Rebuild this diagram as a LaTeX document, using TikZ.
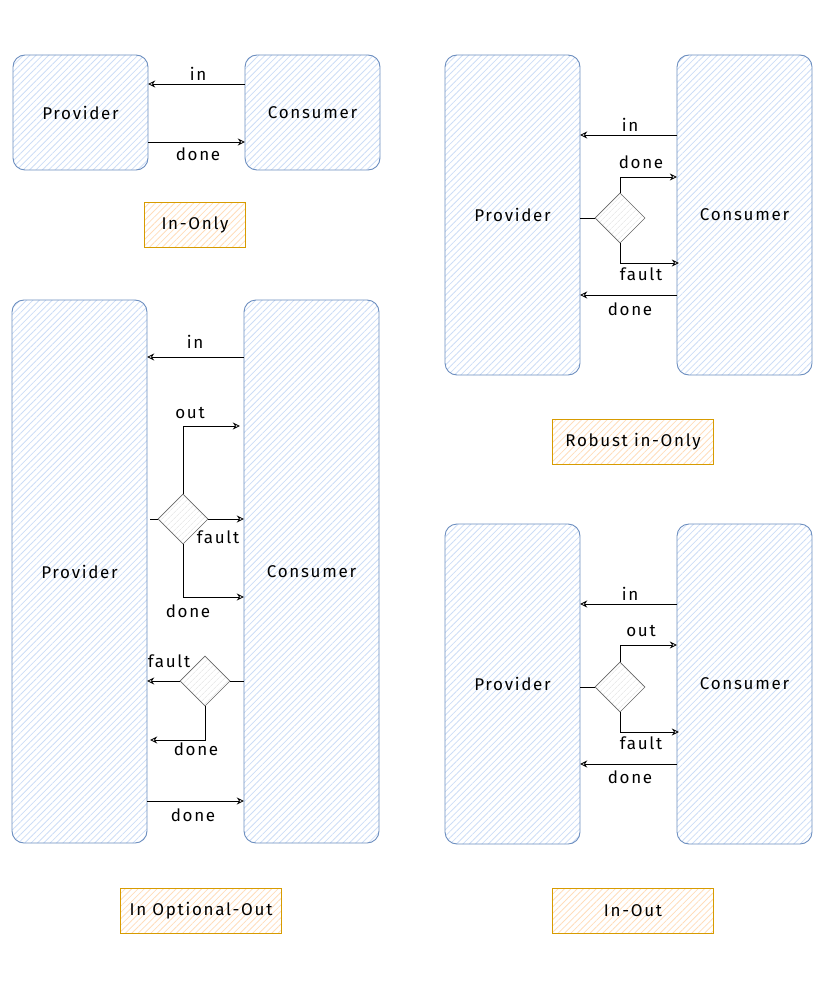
\documentclass[tikz,border=0pt]{standalone}
\usepackage{fontspec}
\setmainfont{Fira Sans}[LetterSpace=10]
\usetikzlibrary{shapes.geometric,arrows.meta,patterns.meta}
\definecolor{bstroke}{HTML}{6C8EBF}
\definecolor{bhatch}{HTML}{CCDDF6}
\definecolor{ostroke}{HTML}{D79B00}
\definecolor{ohatch}{HTML}{FFDDBB}
\definecolor{gstroke}{HTML}{666666}
\definecolor{ghatch}{HTML}{E0E0E0}
\begin{document}
\begin{tikzpicture}[x=1pt,y=-1pt,font=\fontsize{17}{20}\selectfont,
  blk/.style={rounded corners=12pt,
    preaction={pattern={Lines[angle=45,distance=4.5pt,line width=0.8pt]},pattern color=bhatch},
    postaction={draw=bstroke,line width=0.9pt},
    inner sep=0pt,minimum width=135pt},
  tag/.style={
    preaction={pattern={Lines[angle=45,distance=4.5pt,line width=0.8pt]},pattern color=ohatch},
    inner sep=0pt,minimum width=160pt,minimum height=44pt},
  tagline/.style={draw=ostroke,line width=1.1pt},
  dia/.style={diamond,
    preaction={pattern={Lines[angle=45,distance=4pt,line width=0.6pt]},pattern color=ghatch},
    postaction={draw=gstroke,line width=0.6pt},
    inner sep=0pt,minimum width=50pt,minimum height=50pt},
  lbl/.style={inner sep=0pt},
  con/.style={draw,line width=0.8pt},
  arr/.style={draw,line width=0.8pt,-{Stealth[open,length=7pt,width=7pt]}}
]
\useasboundingbox (0,0) rectangle (827,995);

% ---------- In-Only ----------
\node[blk,minimum height=115pt] (p1) at (80.5,112.5) {Provider};
\node[blk,minimum height=115pt] (c1) at (312.5,112.5) {Consumer};
\node[tag,minimum width=100pt] (t1) at (195,225) {In-Only};
\draw[arr] (c1.west |- 0,84) -- (p1.east |- 0,84);
\draw[arr] (p1.east |- 0,142) -- (c1.west |- 0,142);
\node[lbl] (l1a) at (198,74) {in};
\node[lbl] (l1b) at (198,154) {done};

% ---------- Robust in-Only ----------
\node[blk,minimum height=320pt] (p2) at (512.5,215) {Provider};
\node[blk,minimum height=320pt] (c2) at (744.5,215) {Consumer};
\node[dia] (d2) at (620,218) {};
\node[tag] (t2) at (633,442) {Robust in-Only};
\draw[arr] (c2.west |- 0,135) -- (p2.east |- 0,135);
\draw[con] (p2.east |- d2.west) -- (d2.west);
\draw[arr] (d2.north) |- (c2.west |- 0,177);
\draw[arr] (d2.south) |- ([xshift=2pt]c2.west |- 0,263);
\draw[arr] (c2.west |- 0,295) -- (p2.east |- 0,295);
\node[lbl] (l2a) at (630,125) {in};
\node[lbl] (l2b) at (641,162) {done};
\node[lbl] (l2c) at (641,274) {fault};
\node[lbl] (l2d) at (630,309) {done};

% ---------- In Optional-Out ----------
\node[blk,minimum height=543pt] (p3) at (79.5,571.5) {Provider};
\node[blk,minimum height=543pt] (c3) at (311.5,571.5) {Consumer};
\node[dia] (d3a) at (183,519) {};
\node[dia] (d3b) at (205,681) {};
\node[tag] (t3) at (201,911) {In Optional-Out};
\draw[arr] (c3.west |- 0,357) -- (p3.east |- 0,357);
\draw[con] ([xshift=3pt]p3.east |- d3a.west) -- (d3a.west);
\draw[arr] (d3a.north) |- ([xshift=-4pt]c3.west |- 0,426);
\draw[arr] (d3a.east) -- (c3.west |- d3a.east);
\draw[arr] (d3a.south) |- (c3.west |- 0,597);
\draw[con] (c3.west |- d3b.east) -- (d3b.east);
\draw[arr] (d3b.west) -- (p3.east |- d3b.west);
\draw[arr] (d3b.south) |- ([xshift=3pt]p3.east |- 0,740);
\draw[arr] (p3.east |- 0,801) -- (c3.west |- 0,801);
\node[lbl] (l3a) at (195,342) {in};
\node[lbl] (l3b) at (190,413) {out};
\node[lbl] (l3c) at (218,537) {fault};
\node[lbl] (l3d) at (188,611) {done};
\node[lbl] (l3e) at (169,661) {fault};
\node[lbl] (l3f) at (196,749) {done};
\node[lbl] (l3g) at (193,815) {done};

% ---------- In-Out ----------
\node[blk,minimum height=320pt] (p4) at (512.5,684) {Provider};
\node[blk,minimum height=320pt] (c4) at (744.5,684) {Consumer};
\node[dia] (d4) at (620,687) {};
\node[tag] (t4) at (633,911) {In-Out};
\draw[arr] (c4.west |- 0,604) -- (p4.east |- 0,604);
\draw[con] (p4.east |- d4.west) -- (d4.west);
\draw[arr] (d4.north) |- (c4.west |- 0,645);
\draw[arr] (d4.south) |- ([xshift=2pt]c4.west |- 0,732);
\draw[arr] (c4.west |- 0,764) -- (p4.east |- 0,764);
\node[lbl] (l4a) at (630,594) {in};
\node[lbl] (l4b) at (641,631) {out};
\node[lbl] (l4c) at (641,743) {fault};
\node[lbl] (l4d) at (630,777) {done};

% tag borders
\foreach \t in {t1,t2,t3,t4}
  \draw[tagline] (\t.north west) rectangle (\t.south east);
\end{tikzpicture}
\end{document}
